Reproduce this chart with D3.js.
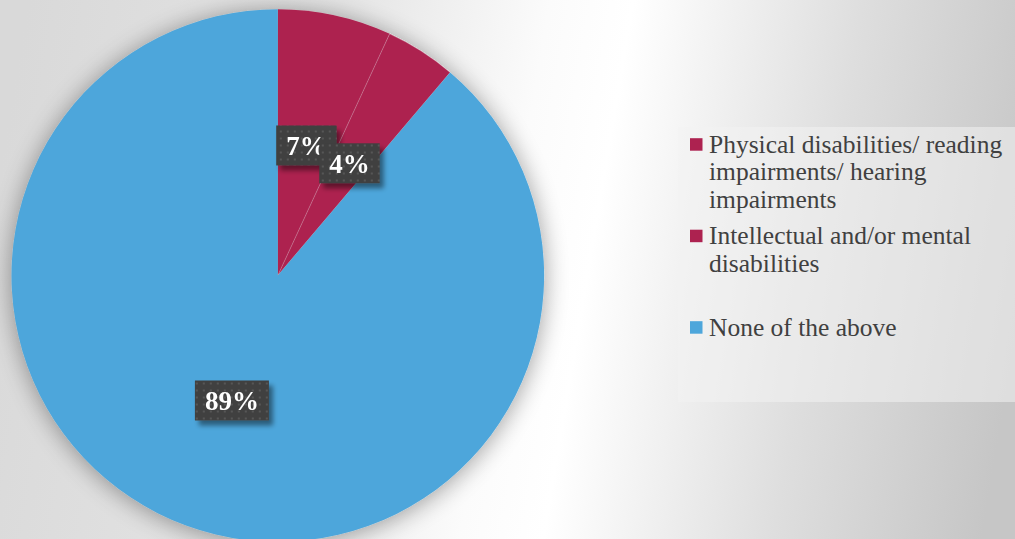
<!DOCTYPE html>
<html>
<head>
<meta charset="utf-8">
<script src="https://cdn.jsdelivr.net/npm/d3@7/dist/d3.min.js"></script>
<style>
html,body{margin:0;padding:0;overflow:hidden;background:#fff;}
svg{display:block;}
</style>
</head>
<body>
<svg id="chart" width="1015" height="539"></svg>
<script>
// ---- data ----
const categories = [
  "Physical disabilities/ reading impairments/ hearing impairments",
  "Intellectual and/or mental disabilities",
  "None of the above"
];
const values = [6.9, 4.3, 88.8];
const labels = ["7%", "4%", "89%"];
const colors = ["#AD2250", "#AD2250", "#4DA6DB"];

const W = 1015, H = 539;
const svg = d3.select("#chart");
const defs = svg.append("defs");

// background gradient
const bg = defs.append("linearGradient").attr("id","bg")
  .attr("gradientUnits","userSpaceOnUse")
  .attr("x1",0).attr("y1",170).attr("x2",1015).attr("y2",340);
[[0,"#d9d9d9"],[0.3,"#e4e4e4"],[0.5,"#fbfbfb"],[0.58,"#ffffff"],[0.8,"#dedede"],[1,"#c6c6c6"]]
  .forEach(([o,c])=>bg.append("stop").attr("offset",o).attr("stop-color",c));
svg.append("rect").attr("width",W).attr("height",H).attr("fill","url(#bg)");

// pie shadow
const ps = defs.append("filter").attr("id","pieShadow")
  .attr("x","-20%").attr("y","-20%").attr("width","140%").attr("height","140%");
ps.append("feGaussianBlur").attr("in","SourceAlpha").attr("stdDeviation",12).attr("result","b");
ps.append("feOffset").attr("in","b").attr("dx",0).attr("dy",2).attr("result","o");
ps.append("feComponentTransfer").attr("in","o").attr("result","s")
  .append("feFuncA").attr("type","linear").attr("slope",0.38);
const pm = ps.append("feMerge");
pm.append("feMergeNode").attr("in","s");
pm.append("feMergeNode").attr("in","SourceGraphic");

// label shadow
const ls = defs.append("filter").attr("id","lblShadow")
  .attr("x","-30%").attr("y","-30%").attr("width","160%").attr("height","160%");
ls.append("feGaussianBlur").attr("in","SourceAlpha").attr("stdDeviation",2.5).attr("result","b");
ls.append("feOffset").attr("in","b").attr("dx",4).attr("dy",5).attr("result","o");
ls.append("feComponentTransfer").attr("in","o").attr("result","s")
  .append("feFuncA").attr("type","linear").attr("slope",0.45);
const lm = ls.append("feMerge");
lm.append("feMergeNode").attr("in","s");
lm.append("feMergeNode").attr("in","SourceGraphic");

// dotted pattern for label boxes
const pat = defs.append("pattern").attr("id","dots")
  .attr("patternUnits","userSpaceOnUse").attr("width",7).attr("height",7);
pat.append("rect").attr("width",7).attr("height",7).attr("fill","#404040");
pat.append("rect").attr("x",2).attr("y",2).attr("width",2).attr("height",2).attr("fill","#575757");

// ---- pie ----
const cx = 277.8, cy = 275.5, R = 266.3;
const pie = d3.pie().sort(null).value(d=>d.v);
const data = categories.map((c,i)=>({c, v:values[i], label:labels[i], color:colors[i]}));
const arcs = pie(data);
const arc = d3.arc().innerRadius(0).outerRadius(R);

const g = svg.append("g").attr("transform",`translate(${cx},${cy})`);
const slices = g.append("g").attr("filter","url(#pieShadow)");
slices.selectAll("path").data(arcs).enter().append("path")
  .attr("d",arc)
  .attr("fill",d=>d.data.color)
  .attr("stroke",(d,i)=> i===1 ? "rgba(255,255,255,0.3)" : "none")
  .attr("stroke-width",0.8);

// labels
const lblFont = "bold 27px 'Liberation Serif', serif";
const lg = g.append("g");
arcs.forEach(d=>{
  const [x,y] = arc.centroid(d);
  const grp = lg.append("g").attr("filter","url(#lblShadow)");
  const t = grp.append("text")
    .attr("x",x).attr("y",y)
    .attr("text-anchor","middle")
    .attr("dominant-baseline","central")
    .style("font",lblFont)
    .attr("fill","#ffffff")
    .text(d.data.label);
  const w = t.node().getComputedTextLength();
  const bw = w + 20, bh = 40;
  grp.insert("rect","text")
    .attr("x",x-bw/2).attr("y",y-bh/2)
    .attr("width",bw).attr("height",bh)
    .attr("fill","url(#dots)");
  t.attr("y", y+1);
});

// ---- legend ----
const legX = 678, legY = 127, legW = W-678, legH = 275;
svg.append("rect").attr("x",legX).attr("y",legY).attr("width",legW).attr("height",legH)
  .attr("fill","#f2f2f2").attr("fill-opacity",0.55);

const legFont = "25.5px 'Liberation Serif', serif";
const maxW = 300;
const legend = svg.append("g");
data.forEach((d,i)=>{
  const base = 152.7 + i*91.5;
  const item = legend.append("g");
  item.append("rect").attr("x",690).attr("y",base-14.5).attr("width",12.5).attr("height",12.5)
    .attr("fill",d.color);
  const txt = item.append("text").attr("x",709).attr("y",base)
    .style("font",legFont).attr("fill","#404040");
  // word wrap
  const words = d.c.split(" ");
  let line = [], lineNo = 0;
  let ts = txt.append("tspan").attr("x",709).attr("y",base);
  words.forEach(wd=>{
    line.push(wd);
    ts.text(line.join(" "));
    if (ts.node().getComputedTextLength() > maxW && line.length>1){
      line.pop();
      ts.text(line.join(" "));
      line = [wd];
      lineNo++;
      ts = txt.append("tspan").attr("x",709).attr("y",base + lineNo*27.5).text(wd);
    }
  });
});
</script>
</body>
</html>
